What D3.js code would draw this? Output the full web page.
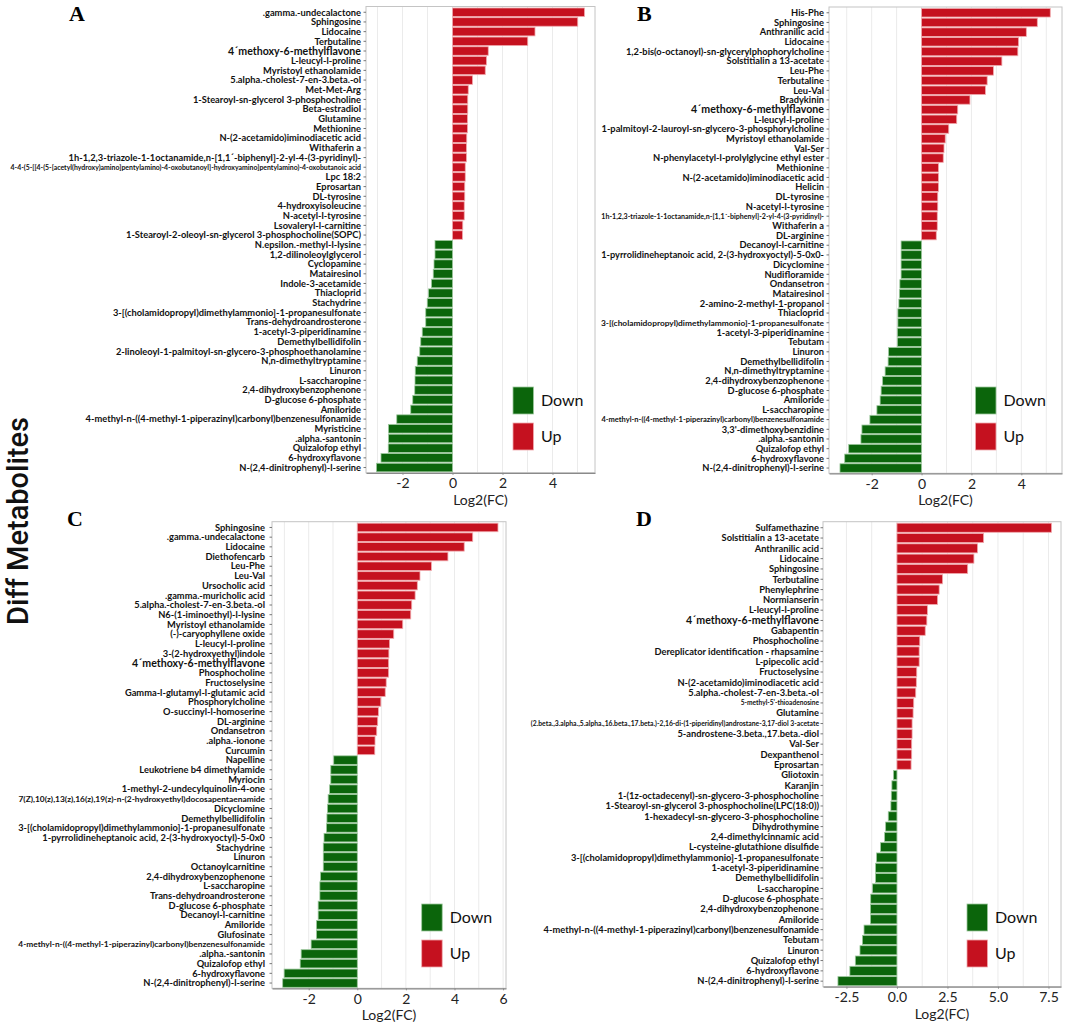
<!DOCTYPE html>
<html>
<head>
<meta charset="utf-8">
<script src="https://cdn.jsdelivr.net/npm/d3@7"></script>
<style>
  body { margin: 0; background: #fff; }
  text { font-family: Lato, "Open Sans", sans-serif; }
</style>
</head>
<body>
<svg id="chart" width="1065" height="1024"></svg>
<script>
// ---- data (log2 fold change per metabolite) ----
const panelLetters = ["A", "B", "C", "D"];
const legendNames = ["Down", "Up"];
const highlightLabel = "4´methoxy-6-methylflavone";

const labelsA = [".gamma.-undecalactone", "Sphingosine", "Lidocaine", "Terbutaline", "4´methoxy-6-methylflavone",
    "L-leucyl-l-proline", "Myristoyl ethanolamide", "5.alpha.-cholest-7-en-3.beta.-ol", "Met-Met-Arg",
    "1-Stearoyl-sn-glycerol 3-phosphocholine", "Beta-estradiol", "Glutamine", "Methionine",
    "N-(2-acetamido)iminodiacetic acid", "Withaferin a",
    "1h-1,2,3-triazole-1-1octanamide,n-[1,1´-biphenyl]-2-yl-4-(3-pyridinyl)-",
    "4-4-(5-[[4-(5-[acetyl(hydroxy)amino]pentylamino)-4-oxobutanoyl]-hydroxyamino]pentylamino)-4-oxobutanoic acid",
    "Lpc 18:2", "Eprosartan", "DL-tyrosine", "4-hydroxyisoleucine", "N-acetyl-l-tyrosine", "Lsovaleryl-l-carnitine",
    "1-Stearoyl-2-oleoyl-sn-glycerol 3-phosphocholine(SOPC)", "N.epsilon.-methyl-l-lysine", "1,2-dilinoleoylglycerol",
    "Cyclopamine", "Matairesinol", "Indole-3-acetamide", "Thiacloprid", "Stachydrine",
    "3-[(cholamidopropyl)dimethylammonio]-1-propanesulfonate", "Trans-dehydroandrosterone",
    "1-acetyl-3-piperidinamine", "Demethylbellidifolin", "2-linoleoyl-1-palmitoyl-sn-glycero-3-phosphoethanolamine",
    "N,n-dimethyltryptamine", "Linuron", "L-saccharopine", "2,4-dihydroxybenzophenone", "D-glucose 6-phosphate",
    "Amiloride", "4-methyl-n-((4-methyl-1-piperazinyl)carbonyl)benzenesulfonamide", "Myristicine",
    ".alpha.-santonin", "Quizalofop ethyl", "6-hydroxyflavone", "N-(2,4-dinitrophenyl)-l-serine"];
const valuesA = [5.28, 5.01, 3.30, 3.01, 1.43, 1.36, 1.31, 0.80, 0.63, 0.61, 0.61, 0.60, 0.60, 0.57, 0.56, 0.56,
    0.51, 0.51, 0.49, 0.49, 0.47, 0.47, 0.41, 0.40, -0.70, -0.70, -0.74, -0.77, -0.84, -0.96, -1.01, -1.07, -1.07,
    -1.21, -1.27, -1.31, -1.41, -1.49, -1.50, -1.51, -1.59, -1.67, -2.23, -2.56, -2.56, -2.57, -2.86, -3.04];

const labelsB = ["His-Phe", "Sphingosine", "Anthranilic acid", "Lidocaine",
    "1,2-bis(o-octanoyl)-sn-glycerylphophorylcholine", "Solstitialin a 13-acetate", "Leu-Phe", "Terbutaline",
    "Leu-Val", "Bradykinin", "4´methoxy-6-methylflavone", "L-leucyl-l-proline",
    "1-palmitoyl-2-lauroyl-sn-glycero-3-phosphorylcholine", "Myristoyl ethanolamide", "Val-Ser",
    "N-phenylacetyl-l-prolylglycine ethyl ester", "Methionine", "N-(2-acetamido)iminodiacetic acid", "Helicin",
    "DL-tyrosine", "N-acetyl-l-tyrosine", "1h-1,2,3-triazole-1-1octanamide,n-[1,1´-biphenyl]-2-yl-4-(3-pyridinyl)-",
    "Withaferin a", "DL-arginine", "Decanoyl-l-carnitine", "1-pyrrolidineheptanoic acid, 2-(3-hydroxyoctyl)-5-0x0-",
    "Dicyclomine", "Nudifloramide", "Ondansetron", "Matairesinol", "2-amino-2-methyl-1-propanol", "Thiacloprid",
    "3-[(cholamidopropyl)dimethylammonio]-1-propanesulfonate", "1-acetyl-3-piperidinamine", "Tebutam", "Linuron",
    "Demethylbellidifolin", "N,n-dimethyltryptamine", "2,4-dihydroxybenzophenone", "D-glucose 6-phosphate",
    "Amiloride", "L-saccharopine", "4-methyl-n-((4-methyl-1-piperazinyl)carbonyl)benzenesulfonamide",
    "3,3'-dimethoxybenzidine", ".alpha.-santonin", "Quizalofop ethyl", "6-hydroxyflavone",
    "N-(2,4-dinitrophenyl)-l-serine"];
const valuesB = [5.16, 4.64, 4.20, 3.89, 3.86, 3.22, 2.88, 2.63, 2.56, 1.94, 1.45, 1.41, 1.09, 0.95, 0.90, 0.87,
    0.68, 0.68, 0.68, 0.65, 0.65, 0.63, 0.63, 0.59, -0.82, -0.82, -0.82, -0.82, -0.87, -0.89, -0.91, -0.95, -0.95,
    -0.97, -0.97, -1.32, -1.34, -1.46, -1.56, -1.62, -1.66, -1.79, -2.07, -2.39, -2.43, -2.92, -3.08, -3.27];

const labelsC = ["Sphingosine", ".gamma.-undecalactone", "Lidocaine", "Diethofencarb", "Leu-Phe", "Leu-Val",
    "Ursocholic acid", ".gamma.-muricholic acid", "5.alpha.-cholest-7-en-3.beta.-ol", "N6-(1-iminoethyl)-l-lysine",
    "Myristoyl ethanolamide", "(-)-caryophyllene oxide", "L-leucyl-l-proline", "3-(2-hydroxyethyl)indole",
    "4´methoxy-6-methylflavone", "Phosphocholine", "Fructoselysine", "Gamma-l-glutamyl-l-glutamic acid",
    "Phosphorylcholine", "O-succinyl-l-homoserine", "DL-arginine", "Ondansetron", ".alpha.-ionone", "Curcumin",
    "Napelline", "Leukotriene b4 dimethylamide", "Myriocin", "1-methyl-2-undecylquinolin-4-one",
    "7(Z),10(z),13(z),16(z),19(z)-n-(2-hydroxyethyl)docosapentaenamide", "Dicyclomine", "Demethylbellidifolin",
    "3-[(cholamidopropyl)dimethylammonio]-1-propanesulfonate", "1-pyrrolidineheptanoic acid, 2-(3-hydroxyoctyl)-5-0x0",
    "Stachydrine", "Linuron", "Octanoylcarnitine", "2,4-dihydroxybenzophenone", "L-saccharopine",
    "Trans-dehydroandrosterone", "D-glucose 6-phosphate", "Decanoyl-l-carnitine", "Amiloride", "Glufosinate",
    "4-methyl-n-((4-methyl-1-piperazinyl)carbonyl)benzenesulfonamide", ".alpha.-santonin", "Quizalofop ethyl",
    "6-hydroxyflavone", "N-(2,4-dinitrophenyl)-l-serine"];
const valuesC = [5.79, 4.75, 4.40, 3.73, 3.05, 2.58, 2.47, 2.38, 2.24, 2.20, 1.87, 1.50, 1.33, 1.30, 1.29, 1.29,
    1.19, 1.15, 0.97, 0.87, 0.84, 0.80, 0.73, 0.72, -0.97, -1.09, -1.09, -1.14, -1.20, -1.23, -1.25, -1.27, -1.37,
    -1.40, -1.40, -1.40, -1.51, -1.54, -1.54, -1.61, -1.61, -1.68, -1.68, -1.90, -2.31, -2.35, -3.01, -3.07];

const labelsD = ["Sulfamethazine", "Solstitialin a 13-acetate", "Anthranilic acid", "Lidocaine", "Sphingosine",
    "Terbutaline", "Phenylephrine", "Normianserin", "L-leucyl-l-proline", "4´methoxy-6-methylflavone", "Gabapentin",
    "Phosphocholine", "Dereplicator identification - rhapsamine", "L-pipecolic acid", "Fructoselysine",
    "N-(2-acetamido)iminodiacetic acid", "5.alpha.-cholest-7-en-3.beta.-ol", "5-methyl-5'-thioadenosine", "Glutamine",
    "(2.beta.,3.alpha.,5.alpha.,16.beta.,17.beta.)-2,16-di-(1-piperidinyl)androstane-3,17-diol 3-acetate",
    "5-androstene-3.beta.,17.beta.-diol", "Val-Ser", "Dexpanthenol", "Eprosartan", "Gliotoxin", "Karanjin",
    "1-(1z-octadecenyl)-sn-glycero-3-phosphocholine", "1-Stearoyl-sn-glycerol 3-phosphocholine(LPC(18:0))",
    "1-hexadecyl-sn-glycero-3-phosphocholine", "Dihydrothymine", "2,4-dimethylcinnamic acid",
    "L-cysteine-glutathione disulfide", "3-[(cholamidopropyl)dimethylammonio]-1-propanesulfonate",
    "1-acetyl-3-piperidinamine", "Demethylbellidifolin", "L-saccharopine", "D-glucose 6-phosphate",
    "2,4-dihydroxybenzophenone", "Amiloride", "4-methyl-n-((4-methyl-1-piperazinyl)carbonyl)benzenesulfonamide",
    "Tebutam", "Linuron", "Quizalofop ethyl", "6-hydroxyflavone", "N-(2,4-dinitrophenyl)-l-serine"];
const valuesD = [7.65, 4.29, 3.99, 3.81, 3.50, 2.26, 2.09, 2.01, 1.51, 1.48, 1.40, 1.13, 1.10, 1.10, 0.98, 0.96,
    0.93, 0.83, 0.80, 0.75, 0.75, 0.73, 0.73, 0.70, -0.17, -0.25, -0.28, -0.30, -0.43, -0.56, -0.61, -0.81, -1.01,
    -1.06, -1.06, -1.21, -1.30, -1.31, -1.31, -1.63, -1.71, -1.83, -2.06, -2.33, -2.92];

const ticksA = [-2, 0, 2, 4];
const ticksB = [-2, 0, 2, 4];
const ticksC = [-2, 0, 2, 4, 6];
const ticksD = [-2.5, 0, 2.5, 5, 7.5];

// ---- styling / layout ----
const upColor = "#c5111f", upEdge = "#f1a9ad";
const downColor = "#0b650b", downEdge = "#9cc89c";
const labelSize = 9.3, highlightSize = 10.6;
const smallLabels = { "5-methyl-5'-thioadenosine": 6.6 };

const panels = [
    { letter: panelLetters[0], labels: labelsA, values: valuesA, ticks: ticksA, fmt: d => String(d),
      x0: 366, x1: 595, y0: 6.5, y1: 472.8, domain: [-3.46, 5.7], labelRight: 361, labelMin: 10,
      letterX: 69, letterY: 21, legendX: 513, legendY: 387 },
    { letter: panelLetters[1], labels: labelsB, values: valuesB, ticks: ticksB, fmt: d => String(d),
      x0: 829, x1: 1062, y0: 7, y1: 473.3, domain: [-3.71, 5.63], labelRight: 824, labelMin: 601,
      letterX: 637, letterY: 21, legendX: 975.5, legendY: 387 },
    { letter: panelLetters[2], labels: labelsC, values: valuesC, ticks: ticksC, fmt: d => String(d),
      x0: 272, x1: 506, y0: 521.7, y1: 988.3, domain: [-3.51, 6.12], labelRight: 265, labelMin: 18,
      letterX: 67, letterY: 526, legendX: 421.7, legendY: 904 },
    { letter: panelLetters[3], labels: labelsD, values: valuesD, ticks: ticksD, fmt: d => d.toFixed(1),
      x0: 823, x1: 1061, y0: 521.7, y1: 986.7, domain: [-3.66, 8.12], labelRight: 819, labelMin: 530,
      letterX: 636, letterY: 526, legendX: 967, legendY: 904 }
];

const svg = d3.select("#chart");

function drawPanel(p) {
    const g = svg.append("g");

    const x = d3.scaleLinear().domain(p.domain).range([p.x0, p.x1]);
    const y = d3.scaleBand()
        .domain(d3.range(p.labels.length))
        .range([p.y0 + 1.5, p.y1 - 1])
        .paddingInner(0.12);

    // faint grid at half the tick step
    const step = (p.ticks[1] - p.ticks[0]) / 2;
    const grid = d3.range(Math.ceil(p.domain[0] / step) * step, p.domain[1], step);
    g.selectAll(".grid")
        .data(grid)
        .join("line")
        .attr("class", "grid")
        .attr("x1", d => x(d))
        .attr("x2", d => x(d))
        .attr("y1", p.y0)
        .attr("y2", p.y1)
        .attr("stroke", "#ebebeb");

    // frame
    g.append("rect")
        .attr("x", p.x0)
        .attr("y", p.y0)
        .attr("width", p.x1 - p.x0)
        .attr("height", p.y1 - p.y0)
        .attr("fill", "none")
        .attr("stroke", "#c4c4c4");

    // short row ticks on the left edge
    g.selectAll(".rowtick")
        .data(p.labels)
        .join("line")
        .attr("class", "rowtick")
        .attr("x1", p.x0 - 2.5)
        .attr("x2", p.x0)
        .attr("y1", (d, i) => y(i) + y.bandwidth() / 2)
        .attr("y2", (d, i) => y(i) + y.bandwidth() / 2)
        .attr("stroke", "#777");

    // bars
    g.selectAll(".bar")
        .data(p.values)
        .join("rect")
        .attr("class", "bar")
        .attr("x", d => x(Math.min(0, d)))
        .attr("y", (d, i) => y(i))
        .attr("width", d => Math.abs(x(d) - x(0)))
        .attr("height", y.bandwidth())
        .attr("fill", d => d > 0 ? upColor : downColor)
        .attr("stroke", d => d > 0 ? upEdge : downEdge)
        .attr("stroke-width", 0.8);

    // bottom axis
    const axis = g.append("g")
        .attr("transform", `translate(0,${p.y1})`)
        .call(d3.axisBottom(x).tickValues(p.ticks).tickFormat(p.fmt).tickSize(2).tickPadding(3.5).tickSizeOuter(0));
    axis.select(".domain").attr("stroke", "#8a8a8a").attr("stroke-width", 1.2);
    axis.selectAll(".tick line").attr("stroke", "#8a8a8a");
    axis.selectAll(".tick text")
        .attr("fill", "#222")
        .style("font-size", "14px")
        .style("font-family", "Lato, sans-serif");

    g.append("text")
        .attr("x", (p.x0 + p.x1) / 2)
        .attr("y", p.y1 + 32)
        .attr("text-anchor", "middle")
        .attr("fill", "#222")
        .style("font-size", "14px")
        .text("Log2(FC)");

    // metabolite labels, shrunk when they would run past the free space
    const avail = p.labelRight - p.labelMin;
    g.selectAll(".label")
        .data(p.labels)
        .join("text")
        .attr("class", "label")
        .attr("x", p.labelRight)
        .attr("y", (d, i) => y(i) + y.bandwidth() / 2)
        .attr("dy", "0.35em")
        .attr("text-anchor", "end")
        .attr("fill", "#111")
        .style("font-weight", 700)
        .style("font-size", d => (d === highlightLabel ? highlightSize : (smallLabels[d] || labelSize)) + "px")
        .text(d => d)
        .each(function (d) {
            const w = this.getComputedTextLength();
            if (w > avail) {
                const size = parseFloat(this.style.fontSize) * avail / w;
                d3.select(this).style("font-size", size + "px");
            }
        });

    // panel letter
    svg.append("text")
        .attr("x", p.letterX)
        .attr("y", p.letterY)
        .style("font-family", "'Liberation Serif', 'Times New Roman', serif")
        .style("font-weight", 700)
        .style("font-size", "22px")
        .text(p.letter);

    // legend
    const legend = g.append("g").attr("transform", `translate(${p.legendX},${p.legendY})`);
    legendNames.forEach((name, i) => {
        const up = name === "Up";
        legend.append("rect")
            .attr("y", i * 36)
            .attr("width", 20.5)
            .attr("height", 27)
            .attr("fill", up ? upColor : downColor)
            .attr("stroke", up ? upEdge : downEdge)
            .attr("stroke-width", 0.8);
        legend.append("text")
            .attr("x", 28)
            .attr("y", i * 36 + 13)
            .attr("dy", "0.35em")
            .attr("fill", "#111")
            .style("font-size", "16px")
            .text(name);
    });
}

panels.forEach(drawPanel);

// shared y title
svg.append("text")
    .attr("transform", "translate(28,521) rotate(-90)")
    .attr("text-anchor", "middle")
    .style("font-family", "Roboto, sans-serif")
    .style("font-weight", 500)
    .style("font-size", "29px")
    .attr("fill", "#111")
    .text("Diff Metabolites");
</script>
</body>
</html>
